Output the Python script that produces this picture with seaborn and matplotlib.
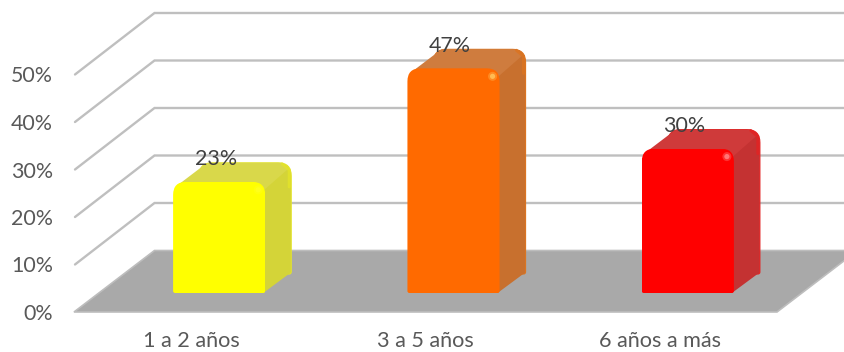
import matplotlib
matplotlib.use("Agg")
import matplotlib.pyplot as plt
import pandas as pd
import seaborn as sns
from matplotlib.patches import PathPatch, Polygon, Circle
from matplotlib.path import Path
from matplotlib.lines import Line2D
from matplotlib.transforms import Affine2D, IdentityTransform

categories = ["1 a 2 años", "3 a 5 años", "6 años a más"]
values = [23.4, 47.3, 30.4]
ticks = [0, 10, 20, 30, 40, 50]

front_colors = ["#ffff00", "#ff6a00", "#ff0000"]
side_colors = ["#d4d438", "#c8702e", "#c43232"]
top_colors = ["#d9d84a", "#cf7c3e", "#cf3a3a"]
rim_colors = ["#e4e42a", "#dc7420", "#e42222"]
spot_colors = ["#ffff20", "#ffc860", "#ff8a8a"]

W, H = 844, 352
sns.set_theme(style="white")
plt.rcParams["font.family"] = ["Lato", "DejaVu Sans"]

fig = plt.figure(figsize=(W / 100, H / 100), dpi=100, facecolor="white")
ax = fig.add_axes([74 / W, 1 - 312 / H, 703 / W, 237.5 / H])
df = pd.DataFrame({"cat": categories, "val": values})
sns.barplot(data=df, x="cat", y="val", hue="cat", palette=front_colors,
            width=92 / 234, legend=False, saturation=1, ax=ax)
ax.set_xlim(-0.5, 2.5)
ax.set_ylim(0, 50)
ax.set_xlabel("")
ax.set_ylabel("")
sns.despine(ax=ax, left=True, bottom=True)
ax.patch.set_alpha(0)
ax.set_yticks(ticks)
ax.set_yticklabels([f"{t}%" for t in ticks])
ax.tick_params(axis="y", length=0, pad=15, labelsize=15.4, labelcolor="#595959")
ax.tick_params(axis="x", length=0, pad=14, labelsize=15.6, labelcolor="#595959")

ID = IdentityTransform()
DX_WALL, DY_WALL = 80.5, 61.5     # wall depth in px
DX_BAR, DY_BAR = 28, 19           # bar inset from the front edge
DEPTH_X, DEPTH_Y = 26, 19         # bar depth in px


def disp(x, y):
    return ax.transData.transform((x, y))


def rounded(x0, y0, x1, y1, rt, rb=2):
    verts = [(x0 + rb, y0), (x1 - rb, y0), (x1, y0), (x1, y0 + rb),
             (x1, y1 - rt), (x1, y1), (x1 - rt, y1),
             (x0 + rt, y1), (x0, y1), (x0, y1 - rt),
             (x0, y0 + rb), (x0, y0), (x0 + rb, y0), (x0 + rb, y0)]
    codes = [Path.MOVETO, Path.LINETO, Path.CURVE3, Path.CURVE3,
             Path.LINETO, Path.CURVE3, Path.CURVE3,
             Path.LINETO, Path.CURVE3, Path.CURVE3,
             Path.LINETO, Path.CURVE3, Path.CURVE3, Path.CLOSEPOLY]
    return Path(verts, codes)


# floor
fl, fb = disp(-0.5, 0)
fr, _ = disp(2.5, 0)
ax.add_patch(Polygon([(fl, fb), (fl + DX_WALL, fb + DY_WALL),
                      (fr + DX_WALL, fb + DY_WALL), (fr, fb)],
                     closed=True, facecolor="#a9a9a9", edgecolor="#bdbdbd",
                     linewidth=1.2, transform=ID, clip_on=False, zorder=2))

# gridlines: diagonal on the side wall, horizontal on the back wall
for t in ticks[1:]:
    gx, gy = disp(-0.5, t)
    ax.add_line(Line2D([gx + 1, gx + DX_WALL, W], [gy, gy + DY_WALL, gy + DY_WALL],
                       color="#bfbfbf", linewidth=1.7, transform=ID, clip_on=False,
                       zorder=1, solid_joinstyle="miter"))

# bars: the seaborn rectangles are the front faces
bars = list(ax.patches)[:3]
for i, bar in enumerate(bars):
    x0, y0 = disp(bar.get_x(), 0)
    x1, y1 = disp(bar.get_x() + bar.get_width(), bar.get_height())
    x0 += DX_BAR; x1 += DX_BAR
    y0 += DY_BAR; y1 += DY_BAR
    r = 13

    # back box, connecting faces
    ax.add_patch(PathPatch(rounded(x0 + DEPTH_X, y0 + DEPTH_Y, x1 + DEPTH_X, y1 + DEPTH_Y, r),
                           facecolor=side_colors[i], edgecolor=rim_colors[i], linewidth=0.8,
                           transform=ID, clip_on=False, zorder=3))
    ax.add_patch(Polygon([(x1 - 2, y0), (x1 + DEPTH_X - 1, y0 + DEPTH_Y + 1),
                          (x1 + DEPTH_X - 1, y1 + DEPTH_Y - 8), (x1 - 2, y1 - 8)],
                         closed=True, facecolor=side_colors[i], edgecolor="none",
                         transform=ID, clip_on=False, zorder=3.1))
    ax.add_patch(Polygon([(x0 + 8, y1 - 8), (x0 + 1, y1 - 8), (x0 + 5, y1 - 3),
                          (x0 + DEPTH_X + 8, y1 + DEPTH_Y),
                          (x1 + DEPTH_X - 9, y1 + DEPTH_Y), (x1 + DEPTH_X - 3, y1 + DEPTH_Y - 6),
                          (x1 - 1, y1 - 8)],
                         closed=True, facecolor=top_colors[i], edgecolor="none",
                         transform=ID, clip_on=False, zorder=3.2))
    # soft rim at the back corner and along the side's right edge
    ax.add_line(Line2D([x1 + DEPTH_X - 9, x1 + DEPTH_X - 2, x1 + DEPTH_X - 2],
                       [y1 + DEPTH_Y - 1, y1 + DEPTH_Y - 7, y1 + DEPTH_Y - 24],
                       color=rim_colors[i], linewidth=2.2, alpha=0.8, transform=ID,
                       clip_on=False, zorder=3.3))

    # front face
    face = rounded(x0, y0, x1, y1, r)
    bar.set_transform(ax.transData + Affine2D().translate(DX_BAR, DY_BAR))
    bar.set_zorder(4)
    bar.set_clip_box(None)
    bar.set_clip_path(face, ID)
    bar.set_edgecolor("none")
    # soft specular spot near the upper right corner of the face
    ax.add_patch(Circle((x1 - 7, y1 - 8), 4.5, facecolor=spot_colors[i], edgecolor="none",
                        alpha=0.35, transform=ID, clip_on=False, zorder=4.2))
    ax.add_patch(Circle((x1 - 7, y1 - 8), 2.6, facecolor=spot_colors[i], edgecolor="none",
                        alpha=0.8, transform=ID, clip_on=False, zorder=4.3))

    # value label
    ax.annotate(f"{values[i]:.0f}%", xy=(i, values[i]), xytext=(24.5 * 0.72, 41.5 * 0.72),
                textcoords="offset points", ha="center", va="center",
                fontsize=15.4, color="#404040", zorder=6, annotation_clip=False)

fig.savefig("out.png", dpi=100, facecolor="white")
